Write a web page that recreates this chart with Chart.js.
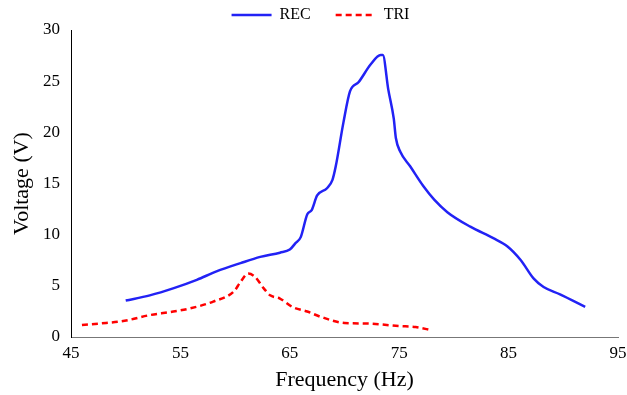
<!DOCTYPE html>
<html>
<head>
<meta charset="utf-8">
<script src="https://cdn.jsdelivr.net/npm/chart.js@4"></script>
<style>
  html, body { margin: 0; padding: 0; background: #fff; }
  #wrap { width: 627px; height: 395px; }
</style>
</head>
<body>
<div id="wrap"><canvas id="chart"></canvas></div>
<script>
// REC curve (Hz, V)
const recFreq = [50, 52.2, 54.4, 56.5, 58.3, 60.5, 62.3, 64.1, 65.0, 65.5, 66.0, 66.6, 67.0, 67.5, 68.4, 68.9, 69.2, 69.9, 70.5, 71.3, 72.4, 73.3, 73.5, 74.0, 74.5, 74.7, 75.1, 76.0, 77.2, 78.2, 79.4, 81.5, 83.6, 84.9, 86.1, 87.3, 88.2, 89.7, 92.0];
const recVolt = [3.56, 4.07, 4.78, 5.59, 6.41, 7.22, 7.83, 8.24, 8.54, 9.15, 9.76, 12.0, 12.4, 13.83, 14.54, 15.36, 16.68, 20.95, 24.0, 24.92, 26.65, 27.56, 27.56, 24.2, 21.36, 19.42, 18.1, 16.68, 14.75, 13.42, 12.2, 10.78, 9.66, 8.85, 7.53, 5.7, 4.88, 4.17, 2.95];

// TRI curve (Hz, V)
const triFreq = [46.0, 47.7, 49.9, 52.2, 54.1, 55.9, 58.0, 59.9, 60.5, 61.2, 61.8, 62.6, 63.2, 64.1, 65.3, 66.6, 67.8, 70.0, 72.0, 75.0, 76.5, 78.0];
const triVolt = [1.17, 1.32, 1.58, 2.14, 2.44, 2.8, 3.46, 4.47, 5.39, 6.2, 5.9, 4.78, 4.07, 3.76, 2.9, 2.49, 1.98, 1.37, 1.32, 1.07, 0.97, 0.66];

const xTicks = [45, 55, 65, 75, 85, 95];
const yTicks = [0, 5, 10, 15, 20, 25, 30];

const pts = (xs, ys) => xs.map((x, i) => ({ x: x, y: ys[i] }));

const serif = "'Liberation Serif', 'Times New Roman', serif";

new Chart(document.getElementById("chart"), {
    type: 'line',
    data: {
        datasets: [{
            label: 'REC',
            data: pts(recFreq, recVolt),
            borderColor: '#2222f5',
            backgroundColor: '#2222f5',
            borderWidth: 2.5,
            pointRadius: 0,
            cubicInterpolationMode: 'monotone',
            fill: false
        }, {
            label: 'TRI',
            data: pts(triFreq, triVolt),
            borderColor: '#ff0000',
            backgroundColor: '#ff0000',
            borderWidth: 2.5,
            borderDash: [6, 4],
            pointRadius: 0,
            cubicInterpolationMode: 'monotone',
            fill: false
        }]
    },
    options: {
        responsive: true,
        maintainAspectRatio: false,
        animation: false,
        layout: { padding: { left: 14, right: 0, top: -18, bottom: 0 } },
        plugins: {
            tooltip: { enabled: false },
            legend: {
                position: 'top',
                maxHeight: 48,
                labels: {
                    usePointStyle: true,
                    pointStyle: 'line',
                    pointStyleWidth: 40,
                    color: '#000',
                    font: { family: serif, size: 16 },
                    padding: 25,
                    boxHeight: 16,
                    // point-style legend items lose the dataset dash, put it back
                    generateLabels: chart => Chart.defaults.plugins.legend.labels.generateLabels(chart).map((item, i) => {
                        const ds = chart.data.datasets[i];
                        item.lineDash = ds.borderDash || [];
                        item.lineWidth = ds.borderWidth;
                        item.strokeStyle = ds.borderColor;
                        return item;
                    })
                }
            }
        },
        scales: {
            x: {
                type: 'linear',
                min: 45, max: 95,
                afterBuildTicks: s => { s.ticks = xTicks.map(v => ({ value: v })); },
                grid: { display: false, drawTicks: false },
                border: { display: true, color: '#777', width: 1 },
                ticks: { color: '#000', font: { family: serif, size: 17 }, padding: 6, maxRotation: 0 },
                title: { display: true, text: 'Frequency (Hz)', color: '#000', font: { family: serif, size: 22 }, padding: { top: 2, bottom: 2 } },
                afterFit: s => { s.height = 58; s.paddingRight = 9; }
            },
            y: {
                type: 'linear',
                min: 0, max: 30,
                afterBuildTicks: s => { s.ticks = yTicks.map(v => ({ value: v })); },
                grid: { display: false, drawTicks: false },
                border: { display: true, color: '#000', width: 1 },
                ticks: { color: '#000', font: { family: serif, size: 17 }, padding: 11 },
                title: { display: true, text: 'Voltage (V)', color: '#000', font: { family: serif, size: 22 }, padding: { top: -5, bottom: 4 } },
                afterFit: s => { s.width = 57; }
            }
        }
    }
});
</script>
</body>
</html>
